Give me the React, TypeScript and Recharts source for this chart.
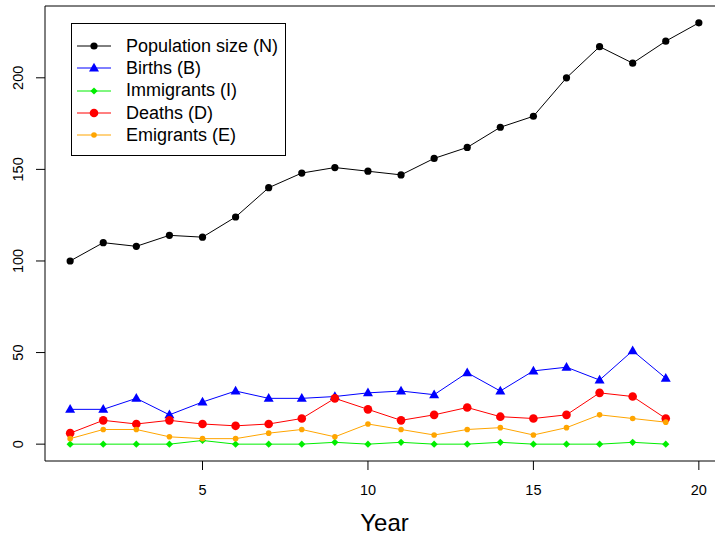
import React from "react";
import { LineChart, Line, XAxis, YAxis, Legend, ReferenceLine } from "recharts";

const years = [1, 2, 3, 4, 5, 6, 7, 8, 9, 10, 11, 12, 13, 14, 15, 16, 17, 18, 19, 20];
const population = [100, 110, 108, 114, 113, 124, 140, 148, 151, 149, 147, 156, 162, 173, 179, 200, 217, 208, 220, 230];
const births = [19, 19, 25, 16, 23, 29, 25, 25, 26, 28, 29, 27, 39, 29, 40, 42, 35, 51, 36];
const immigrants = [0, 0, 0, 0, 2, 0, 0, 0, 1, 0, 1, 0, 0, 1, 0, 0, 0, 1, 0];
const deaths = [6, 13, 11, 13, 11, 10, 11, 14, 25, 19, 13, 16, 20, 15, 14, 16, 28, 26, 14];
const emigrants = [3, 8, 8, 4, 3, 3, 6, 8, 4, 11, 8, 5, 8, 9, 5, 9, 16, 14, 12];

const xTicks = [5, 10, 15, 20];
const yTicks = [0, 50, 100, 150, 200];

const FONT = "'Liberation Sans', Arial, Helvetica, sans-serif";

const data = years.map((year, i) => ({
  year,
  N: population[i],
  B: births[i] ?? null,
  I: immigrants[i] ?? null,
  D: deaths[i] ?? null,
  E: emigrants[i] ?? null,
}));

type Shape = "circle" | "triangle" | "diamond";

const series: { key: string; name: string; color: string; shape: Shape; size: number }[] = [
  { key: "N", name: "Population size (N)", color: "#000000", shape: "circle", size: 3.6 },
  { key: "B", name: "Births (B)", color: "#0000FF", shape: "triangle", size: 5 },
  { key: "I", name: "Immigrants (I)", color: "#00EE00", shape: "diamond", size: 3.6 },
  { key: "D", name: "Deaths (D)", color: "#FF0000", shape: "circle", size: 4.3 },
  { key: "E", name: "Emigrants (E)", color: "#FFA500", shape: "circle", size: 2.8 },
];

function Marker({ cx, cy, shape, size, color }: { cx: number; cy: number; shape: Shape; size: number; color: string }) {
  if (shape === "triangle") {
    const h = size * 1.75;
    return (
      <polygon
        points={`${cx},${cy - h * 0.6} ${cx - size},${cy + h * 0.4} ${cx + size},${cy + h * 0.4}`}
        fill={color}
      />
    );
  }
  if (shape === "diamond") {
    return (
      <polygon
        points={`${cx},${cy - size} ${cx + size},${cy} ${cx},${cy + size} ${cx - size},${cy}`}
        fill={color}
      />
    );
  }
  return <circle cx={cx} cy={cy} r={size} fill={color} />;
}

const makeDot = (shape: Shape, size: number, color: string) => (props: any) => {
  const { cx, cy, value, index } = props;
  if (value == null || cx == null || cy == null || isNaN(cx) || isNaN(cy)) {
    return <g key={index} />;
  }
  return (
    <g key={index}>
      <Marker cx={cx} cy={cy} shape={shape} size={size} color={color} />
    </g>
  );
};

const XTick = (props: any) => {
  const { x, payload } = props;
  return (
    <text x={x} y={495} textAnchor="middle" fontSize={14.5} fontFamily={FONT} fill="#000">
      {payload.value}
    </text>
  );
};

const YTick = (props: any) => {
  const { y, payload } = props;
  return (
    <text
      x={23}
      y={y}
      transform={`rotate(-90 23 ${y})`}
      textAnchor="middle"
      fontSize={14.5}
      fontFamily={FONT}
      fill="#000"
    >
      {payload.value}
    </text>
  );
};

const LegendBox = () => (
  <div
    style={{
      border: "1px solid #000",
      background: "#fff",
      width: 215,
      height: 133,
      boxSizing: "border-box",
      paddingTop: 11,
      fontFamily: FONT,
      fontSize: 18,
    }}
  >
    {series.map((s) => (
      <div key={s.key} style={{ display: "flex", alignItems: "center", height: 22.3 }}>
        <svg width={54} height={22} style={{ flex: "none" }}>
          <line x1={5} y1={11} x2={39} y2={11} stroke={s.color} strokeWidth={1} />
          <Marker cx={22} cy={11} shape={s.shape} size={s.size} color={s.color} />
        </svg>
        <span style={{ color: "#000", whiteSpace: "nowrap" }}>{s.name}</span>
      </div>
    ))}
  </div>
);

export default function App() {
  return (
    <div
      style={{
        position: "absolute",
        left: 0,
        top: 0,
        width: 715,
        height: 537,
        overflow: "hidden",
        background: "#fff",
      }}
    >
      <LineChart
        width={740}
        height={537}
        data={data}
        margin={{ top: 6, right: 16, bottom: 0, left: 0 }}
      >
        <XAxis
          dataKey="year"
          type="number"
          domain={[0.24, 20.76]}
          ticks={xTicks}
          allowDataOverflow
          height={76}
          tickSize={9}
          stroke="#000"
          tickLine={{ stroke: "#000" }}
          axisLine={{ stroke: "#000" }}
          tick={<XTick />}
          label={{
            value: "Year",
            position: "insideBottom",
            offset: 6,
            fontSize: 24,
            fontFamily: FONT,
            fill: "#000",
          }}
        />
        <YAxis
          type="number"
          domain={[-9.2, 239.2]}
          ticks={yTicks}
          allowDataOverflow
          width={45}
          tickSize={9}
          stroke="#000"
          tickLine={{ stroke: "#000" }}
          axisLine={{ stroke: "#000" }}
          tick={<YTick />}
        />
        <ReferenceLine y={239.2} stroke="#000" ifOverflow="visible" />
        <ReferenceLine x={20.76} stroke="#000" ifOverflow="visible" />
        {series.map((s) => (
          <Line
            key={s.key}
            type="linear"
            dataKey={s.key}
            name={s.name}
            stroke={s.color}
            strokeWidth={1}
            dot={makeDot(s.shape, s.size, s.color)}
            activeDot={false}
            connectNulls={false}
            isAnimationActive={false}
          />
        ))}
        <Legend
          layout="vertical"
          align="center"
          verticalAlign="middle"
          content={<LegendBox />}
          wrapperStyle={{ left: 71, top: 23, width: 215 }}
        />
      </LineChart>
    </div>
  );
}
